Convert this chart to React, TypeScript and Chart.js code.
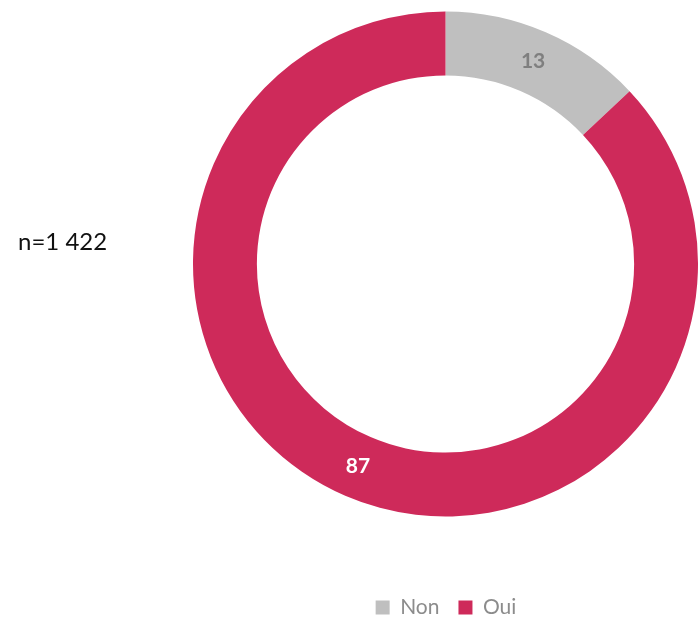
import React, { useEffect, useRef } from "react";
import { Chart, registerables } from "chart.js";

Chart.register(...registerables);

const categories = ["Non", "Oui"];
const values = [13, 87];
const sampleLabel = "n=1 422";

const sliceColors = ["#BFBFBF", "#CE2A5A"];
const labelColors = ["#7F7F7F", "#FFFFFF"];
const FONT = "Lato, 'Open Sans', sans-serif";

const sliceLabels = {
  id: "sliceLabels",
  afterDatasetsDraw(chart: any) {
    const ctx = chart.ctx;
    const meta = chart.getDatasetMeta(0);
    meta.data.forEach((arc: any, i: number) => {
      const { x, y } = arc.tooltipPosition(false);
      ctx.save();
      ctx.font = `bold 21px ${FONT}`;
      ctx.fillStyle = labelColors[i];
      ctx.textAlign = "center";
      ctx.textBaseline = "middle";
      ctx.fillText(String(values[i]), x, y);
      ctx.restore();
    });
  },
};

export default function App() {
  const ref = useRef<HTMLCanvasElement | null>(null);
  useEffect(() => {
    if (!ref.current) return;
    const chart = new Chart(ref.current, {
      type: "doughnut",
      data: {
        labels: categories,
        datasets: [
          {
            data: values,
            backgroundColor: sliceColors,
            borderWidth: 0,
          },
        ],
      },
      options: {
        animation: false,
        responsive: false,
        cutout: "74.7%",
        layout: { padding: { left: 193, right: -1, top: 11, bottom: -9 } },
        plugins: {
          tooltip: { enabled: false },
          legend: {
            position: "bottom",
            title: {
              display: true,
              text: " ",
              font: { size: 10, lineHeight: 1 },
              padding: { top: 51, bottom: 0 },
            },
            labels: {
              boxWidth: 14,
              boxHeight: 14,
              padding: 19,
              color: "#8C8C8C",
              font: { family: FONT, size: 21 },
            },
          },
        },
      },
      plugins: [sliceLabels],
    });
    return () => chart.destroy();
  }, []);

  return (
    <div style={{ position: "absolute", left: 0, top: 0, width: 698, height: 619, background: "#fff" }}>
      <canvas ref={ref} width={698} height={619} />
      <div
        style={{
          position: "absolute",
          left: 18,
          top: 227,
          fontFamily: FONT,
          fontSize: 24,
          lineHeight: "28px",
          color: "#111",
          whiteSpace: "nowrap",
        }}
      >
        {sampleLabel}
      </div>
    </div>
  );
}
